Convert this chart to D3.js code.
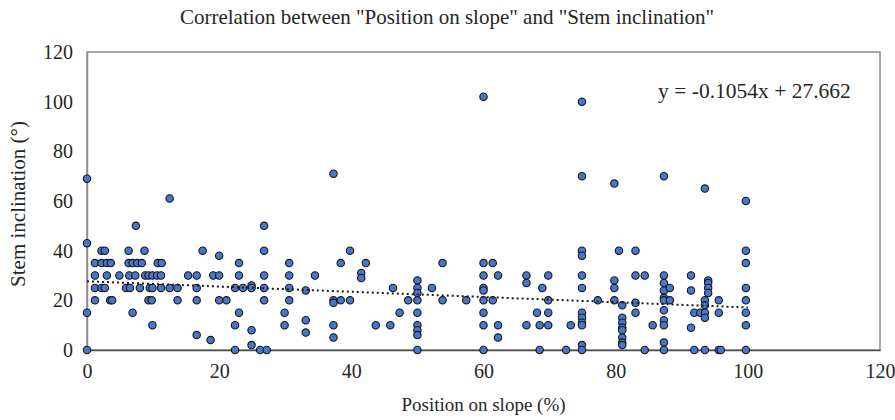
<!DOCTYPE html>
<html>
<head>
<meta charset="utf-8">
<script src="https://cdn.jsdelivr.net/npm/d3@7"></script>
<style>
  body { margin: 0; background: #fff; }
  svg text { font-family: "Times New Roman", "Liberation Serif", "DejaVu Serif", serif !important; fill: #262626; }
</style>
</head>
<body>
<div id="chart"></div>
<script>
// position on slope (%) and stem inclination (deg)
var slopePos = [
  0, 0, 0, 0,
  1.2, 1.2, 1.2, 1.2, 2.2, 2.2, 2.2, 2.7, 2.7, 3.0, 3.0, 3.5, 3.6, 3.8,
  4.9, 5.9, 6.3, 6.3, 6.4, 6.5, 6.9, 6.9, 7.3, 7.4, 7.6, 8.0, 8.3, 8.7, 8.8,
  9.3, 9.3, 9.5, 9.9, 9.9, 9.9, 9.8, 10.6, 10.7, 11.2, 11.2, 11.3,
  12.5, 12.5, 13.7, 13.7, 15.3, 16.6, 16.6, 16.6, 16.6, 17.5, 18.7, 19.1,
  20.0, 20.0, 20.0, 21.1, 22.4, 22.4, 22.4, 23.0, 23.0, 23.0, 23.6,
  24.9, 24.9, 24.9, 24.9, 26.2, 26.8, 26.8, 26.8, 26.8, 26.8, 27.2,
  29.9, 29.9, 30.6, 30.6, 30.6, 30.6, 33.1, 33.1, 33.1, 34.5,
  37.3, 37.3, 37.3, 37.3, 37.3, 38.4, 38.4, 39.8, 39.8, 41.5, 41.5, 42.2,
  43.7, 45.9, 46.3, 47.3, 48.6,
  50, 50, 50, 50, 50, 50, 50, 50, 50, 52.2, 53.8, 53.8, 57.4,
  60, 60, 60, 60, 60, 60, 60, 60, 60, 61.4, 61.4, 62.2, 62.2, 62.2,
  66.5, 66.5, 66.5, 68.1, 68.5, 68.5, 68.9, 69.8, 69.8, 69.8, 69.8, 72.5, 73.2,
  74.9, 74.9, 74.9, 74.9, 74.9, 74.9, 74.9, 74.9, 74.9, 74.9, 74.9, 74.9,
  77.3, 79.8, 79.8, 79.8, 79.8, 80.5,
  81.0, 81.0, 81.0, 81.0, 81.0, 81.0, 81.0, 81.0,
  83.0, 83.0, 83.0, 83.0, 84.4, 84.4, 85.6,
  87.3, 87.3, 87.3, 87.3, 87.3, 87.3, 87.3, 87.3, 87.3, 87.3, 87.3, 88.2, 88.2,
  91.4, 91.4, 91.4, 91.9, 91.9, 92.8, 93.5, 93.5, 93.5, 93.5, 93.5, 93.5,
  94.0, 94.0, 94.0, 94.0, 95.6, 95.6, 95.6, 95.9,
  99.7, 99.7, 99.7, 99.7, 99.7, 99.7, 99.7, 99.7
];
var stemIncl = [
  0, 15, 43, 69,
  35, 30, 25, 20, 40, 35, 25, 40, 25, 35, 30, 20, 35, 20,
  30, 25, 40, 35, 30, 25, 35, 15, 30, 50, 35, 25, 35, 40, 30,
  30, 20, 25, 30, 25, 10, 20, 30, 35, 30, 25, 35,
  25, 61, 25, 20, 30, 30, 25, 20, 6, 40, 4, 30,
  38, 30, 20, 20, 25, 10, 0, 35, 30, 15, 25,
  26, 25, 8, 2, 0, 50, 40, 30, 25, 20, 0,
  15, 10, 35, 30, 25, 20, 24, 12, 7, 30,
  71, 20, 19, 10, 5, 35, 20, 40, 20, 31, 29, 35,
  10, 10, 25, 15, 20,
  28, 25, 23, 20, 15, 10, 8, 6, 0, 25, 35, 20, 20,
  102, 35, 30, 25, 24, 20, 15, 10, 0, 35, 20, 30, 10, 5,
  30, 27, 10, 15, 10, 0, 25, 30, 20, 15, 10, 0, 10,
  100, 70, 40, 38, 30, 25, 15, 13, 11, 10, 2, 0,
  20, 67, 28, 25, 20, 40,
  18, 13, 11, 9, 8, 5, 3, 2,
  40, 30, 19, 15, 30, 0, 10,
  70, 30, 27, 24, 21, 20, 16, 12, 10, 3, 0, 25, 20,
  30, 24, 9, 15, 0, 15, 65, 20, 18, 15, 13, 0,
  28, 27, 25, 23, 20, 15, 0, 0,
  60, 40, 35, 25, 20, 15, 10, 0
];
var xTicks = [0, 20, 40, 60, 80, 100, 120];
var yTicks = [0, 20, 40, 60, 80, 100, 120];
var trendSlope = -0.1054, trendIntercept = 27.662;
var trendRange = [0, 100];

var serif = '"Times New Roman", "Liberation Serif", "DejaVu Serif", serif';

var margin = {top: 52, right: 15, bottom: 70, left: 87},
    width = 895 - margin.left - margin.right,
    height = 420 - margin.top - margin.bottom;

var svg = d3.select("#chart")
  .append("svg")
    .attr("width", 895)
    .attr("height", 420)
    .attr("font-family", serif);

var g = svg.append("g")
    .attr("transform", "translate(" + margin.left + "," + margin.top + ")");

var x = d3.scaleLinear().domain([0, 120]).range([0, width]);
var y = d3.scaleLinear().domain([0, 120]).range([height, 0]);

// plot frame
g.append("rect")
  .attr("width", width)
  .attr("height", height)
  .attr("fill", "none")
  .attr("stroke", "#8c8c8c")
  .attr("stroke-width", 1.5);

// axes, labels only
var xAxis = g.append("g")
  .attr("transform", "translate(0," + height + ")")
  .call(d3.axisBottom(x).tickValues(xTicks).tickSize(0).tickPadding(14));
xAxis.attr("font-family", serif);
xAxis.select(".domain").attr("stroke", "#4d4d4d").attr("stroke-width", 1.5);

var yAxis = g.append("g")
  .call(d3.axisLeft(y).tickValues(yTicks).tickSize(0).tickPadding(14));
yAxis.attr("font-family", serif);
yAxis.select(".domain").attr("stroke", "#8c8c8c").attr("stroke-width", 1.5);

svg.selectAll(".tick text")
  .attr("font-size", 20)
  .attr("fill", "#262626");

// dots
var pts = slopePos.map(function(d, i) { return {px: d, py: stemIncl[i]}; });
g.selectAll("circle")
  .data(pts)
  .enter()
  .append("circle")
    .attr("cx", function(d) { return x(d.px); })
    .attr("cy", function(d) { return y(d.py); })
    .attr("r", 3.7)
    .attr("fill", "#4677cc")
    .attr("stroke", "#141414")
    .attr("stroke-width", 1.1);

// linear trend line
g.append("line")
  .attr("x1", x(trendRange[0]))
  .attr("y1", y(trendSlope * trendRange[0] + trendIntercept))
  .attr("x2", x(trendRange[1]))
  .attr("y2", y(trendSlope * trendRange[1] + trendIntercept))
  .attr("stroke", "#1a1a1a")
  .attr("stroke-width", 2)
  .attr("stroke-dasharray", "2,3");

g.append("text")
  .attr("x", x(101))
  .attr("y", y(101.5))
  .attr("text-anchor", "middle")
  .attr("font-size", 21.5)
  .text("y = -0.1054x + 27.662");

// titles
svg.append("text")
  .attr("x", 447)
  .attr("y", 24)
  .attr("text-anchor", "middle")
  .attr("font-size", 21)
  .text('Correlation between "Position on slope" and "Stem inclination"');

svg.append("text")
  .attr("x", margin.left + width / 2)
  .attr("y", 411)
  .attr("text-anchor", "middle")
  .attr("font-size", 19)
  .text("Position on slope (%)");

svg.append("text")
  .attr("transform", "translate(25," + (margin.top + height / 2 + 3) + ")rotate(-90)")
  .attr("text-anchor", "middle")
  .attr("font-size", 21)
  .text("Stem inclination (°)");
</script>
</body>
</html>
